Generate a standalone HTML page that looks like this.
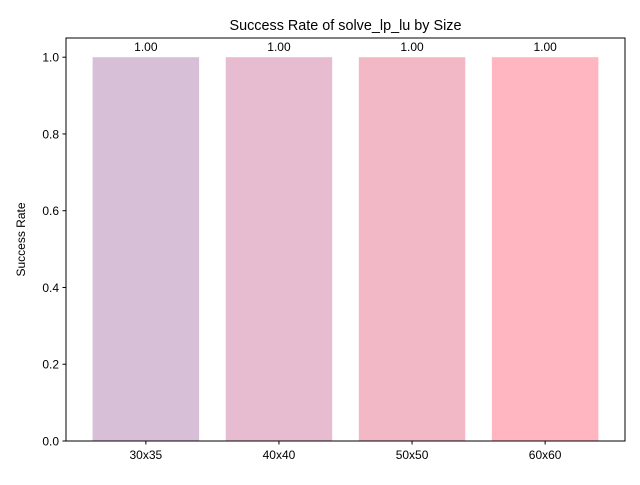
<!DOCTYPE html>
<html><head><meta charset="utf-8"><style>body{margin:0;background:#fff}svg{font-family:"Liberation Sans","DejaVu Sans",sans-serif}</style></head>
<body>
<svg id="chart" width="640" height="480" xmlns="http://www.w3.org/2000/svg">
<text x="345.5" y="30" text-anchor="middle" font-size="14.4">Success Rate of solve_lp_lu by Size</text>
<text transform="translate(25,239.5) rotate(-90)" text-anchor="middle" font-size="12">Success Rate</text>
<g id="plot"></g>
<rect x="66" y="38" width="559" height="403" fill="none" stroke="#000" stroke-width="1"/>
</svg>
<script>
const categories = ["30x35","40x40","50x50","60x60"];
const values = [1.0,1.0,1.0,1.0];
const labels = ["1.00","1.00","1.00","1.00"];
const yTicks = [0.0,0.2,0.4,0.6,0.8,1.0];
const yTickLabels = ["0.0","0.2","0.4","0.6","0.8","1.0"];
const colors = ["#d8bfd8","#e7bcd0","#f2b8c6","#ffb6c1"];
const L=66,R=625,T=38,B=441;
const x = v => L + (v+0.6)/4.2*(R-L);
const y = v => B - v/1.05*(B-T);
const g = document.getElementById('plot');
const NS="http://www.w3.org/2000/svg";
function mk(t,a){const e=document.createElementNS(NS,t);for(const k in a)e.setAttribute(k,a[k]);g.appendChild(e);return e;}
categories.forEach((c,i)=>{
  const r=mk('rect',{x:x(i-0.4),y:y(values[i]),width:x(i+0.4)-x(i-0.4),height:y(0)-y(values[i]),fill:colors[i]});
  
  
  const t=mk('text',{x:x(i),y:y(values[i])-6,'text-anchor':'middle','font-size':12});
  t.textContent=labels[i];
  
  
  const tk=mk('line',{x1:x(i),x2:x(i),y1:B,y2:B+3.5,stroke:'#000'});
  
  
  const tl=mk('text',{x:x(i),y:B+18,'text-anchor':'middle','font-size':12});
  tl.textContent=c;
  
  
});
yTicks.forEach((v,i)=>{
  const tk=mk('line',{x1:L-3.5,x2:L,y1:y(v),y2:y(v),stroke:'#000'});
  
  
  const tl=mk('text',{x:L-7,y:y(v)+4.5,'text-anchor':'end','font-size':12});
  tl.textContent=yTickLabels[i];
  
  
});
</script>
</body></html>
